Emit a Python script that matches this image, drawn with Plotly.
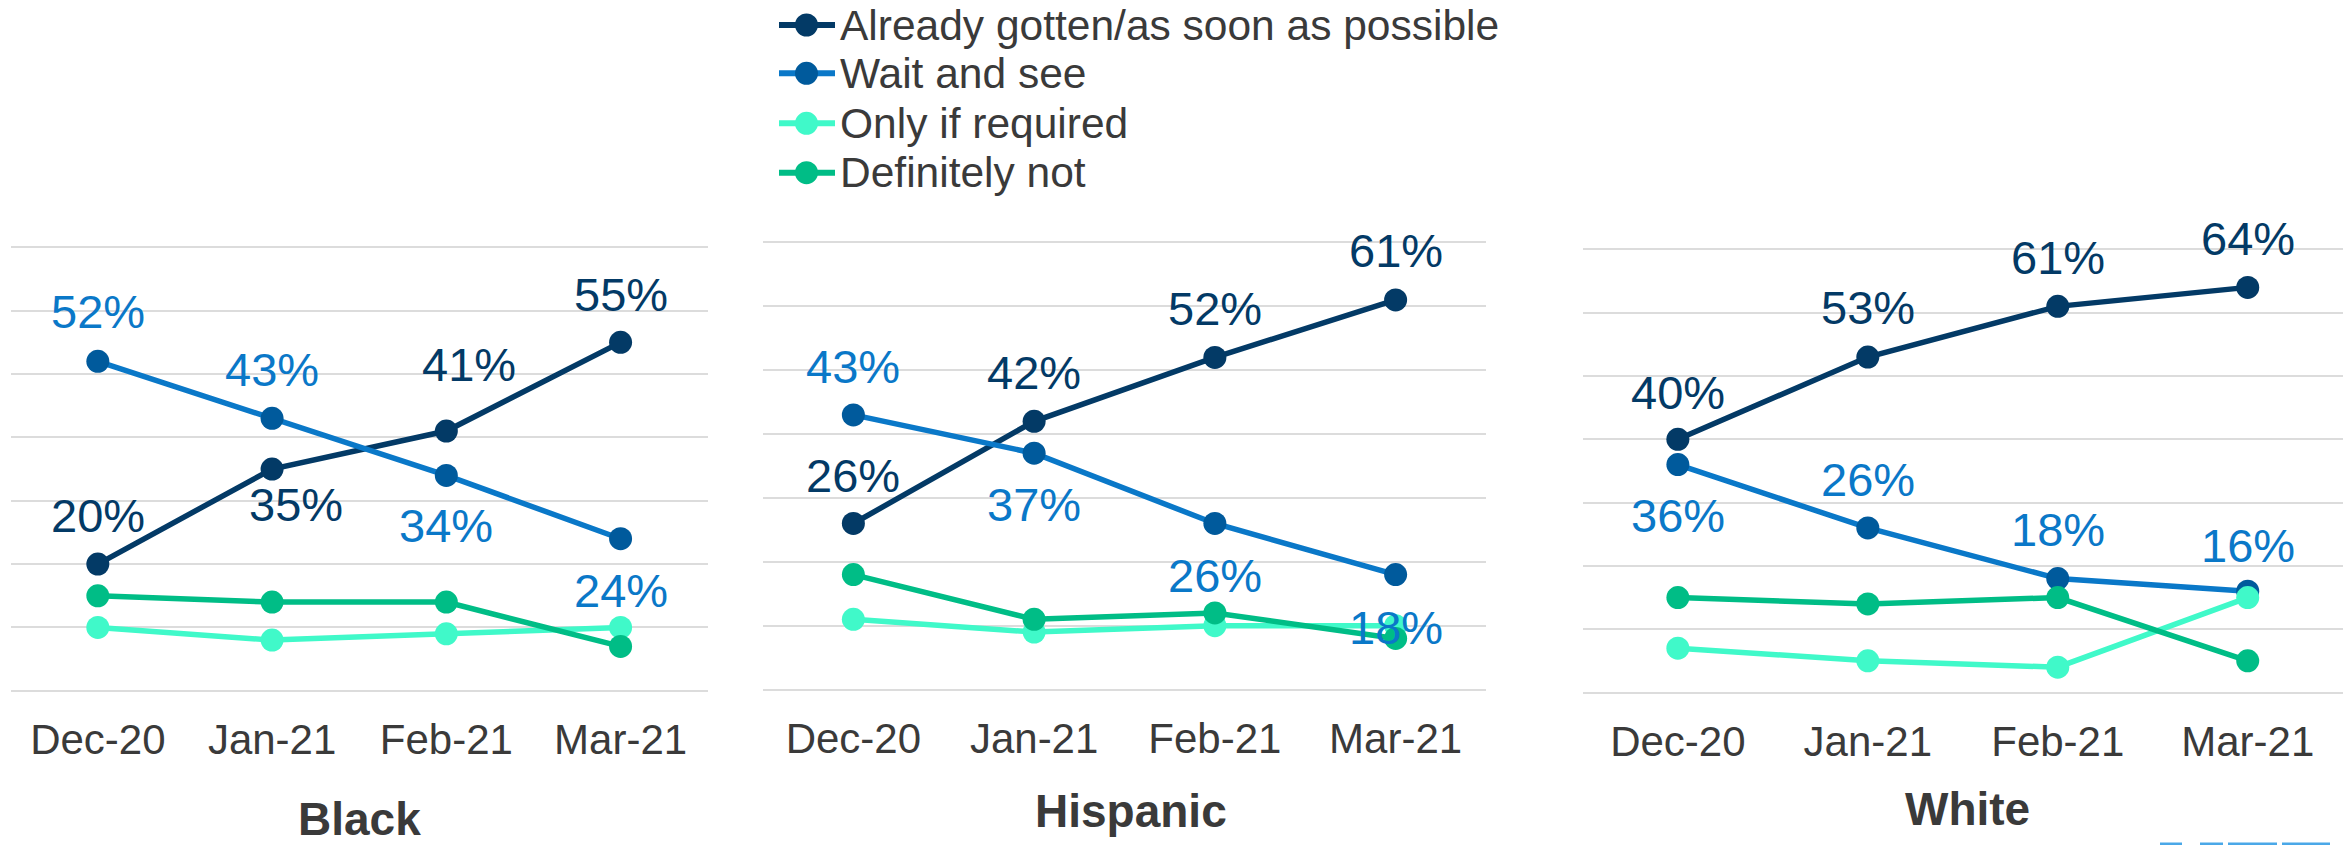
import plotly.graph_objects as go

W, H = 2351, 845

# ---- data -------------------------------------------------------------
months = ["Dec-20", "Jan-21", "Feb-21", "Mar-21"]
groups = ["Black", "Hispanic", "White"]
series_names = [
    "Already gotten/as soon as possible",
    "Wait and see",
    "Only if required",
    "Definitely not",
]

already_gotten = {"Black": [20, 35, 41, 55], "Hispanic": [26, 42, 52, 61], "White": [40, 53, 61, 64]}
wait_and_see = {"Black": [52, 43, 34, 24], "Hispanic": [43, 37, 26, 18], "White": [36, 26, 18, 16]}
only_if_required = {"Black": [10, 8, 9, 10], "Hispanic": [11, 9, 10, 10], "White": [7, 5, 4, 15]}
definitely_not = {"Black": [15, 14, 14, 7], "Hispanic": [18, 11, 12, 8], "White": [15, 14, 15, 5]}

series_values = [already_gotten, wait_and_see, only_if_required, definitely_not]

# ---- styling ----------------------------------------------------------
FONT = "Arial, 'Liberation Sans', sans-serif"
line_colors = ["#033a66", "#0a78c8", "#40f9c9", "#00bd86"]
marker_colors = ["#033a66", "#005a9c", "#40f9c9", "#00bd86"]
label_colors = ["#033a66", "#0a78c8", None, None]   # only the first two series carry value labels
TEXT_DARK = "#3a3a3a"
GRID = "#dcdcdc"

# panel boxes in pixels: left/right of the grid, y of the 70% and 0% gridlines
panel_px = {
    "Black": dict(x0=10.7, x1=707.7, y70=247.3, y0=690.8),
    "Hispanic": dict(x0=763.0, x1=1486.0, y70=242.4, y0=689.6),
    "White": dict(x0=1582.9, x1=2342.7, y70=249.4, y0=692.5),
}
Y_RANGE = [-2, 72]

# value-label placement (vertical shift, horizontal shift) in px for each point
label_shift = {
    ("Black", 0): [(49, 0), (-35, 24), (67, 23), (48, 0)],
    ("Black", 1): [(50, 0), (49, 0), (-50, 0), (-52, 0)],
    ("Hispanic", 0): [(48, 0), (49, 0), (49, 0), (49, 0)],
    ("Hispanic", 1): [(48, 0), (-51, 0), (-52, 0), (-53, 0)],
    ("White", 0): [(47, 0), (50, 0), (49, 0), (49, 0)],
    ("White", 1): [(-51, 0), (48, 0), (49, 0), (46, 0)],
}

title_px = {"Black": (359, 819), "Hispanic": (1131, 811), "White": (1967, 809)}

fig = go.Figure()
annotations = []
shapes = []

for gi, g in enumerate(groups):
    suffix = "" if gi == 0 else str(gi + 1)
    xa, ya = "x" + suffix, "y" + suffix
    p = panel_px[g]
    ppu = (p["y0"] - p["y70"]) / 70.0
    top_px = p["y70"] - (Y_RANGE[1] - 70) * ppu
    bot_px = p["y0"] + (0 - Y_RANGE[0]) * ppu

    fig.layout["xaxis" + suffix] = dict(
        domain=[p["x0"] / W, p["x1"] / W],
        anchor=ya,
        type="category",
        categoryorder="array",
        categoryarray=months,
        range=[-0.5, 3.5],
        showgrid=False,
        showline=False,
        zeroline=False,
        ticks="",
        ticklabelstandoff=8,
        tickfont=dict(family=FONT, size=42, color=TEXT_DARK),
        fixedrange=True,
    )
    fig.layout["yaxis" + suffix] = dict(
        domain=[1 - bot_px / H, 1 - top_px / H],
        anchor=xa,
        range=Y_RANGE,
        tick0=0,
        dtick=10,
        showticklabels=False,
        showgrid=True,
        gridcolor=GRID,
        gridwidth=2,
        zeroline=False,
        showline=False,
        fixedrange=True,
    )

    for si, name in enumerate(series_names):
        vals = series_values[si][g]
        fig.add_trace(go.Scatter(
            x=months, y=vals, xaxis=xa, yaxis=ya,
            name=name, mode="lines+markers",
            line=dict(color=line_colors[si], width=5.5),
            marker=dict(color=marker_colors[si], size=23, line=dict(width=0)),
            showlegend=False, cliponaxis=False,
        ))
        if label_colors[si] is None:
            continue
        for mi, (m, v) in enumerate(zip(months, vals)):
            dy, dx = label_shift[(g, si)][mi]
            annotations.append(dict(
                x=m, y=v, xref=xa, yref=ya, text=f"{v}%",
                showarrow=False, xanchor="center", yanchor="middle",
                yshift=dy, xshift=dx,
                font=dict(family=FONT, size=47, color=label_colors[si]),
            ))

    tx, ty = title_px[g]
    annotations.append(dict(
        x=tx / W, y=1 - ty / H, xref="paper", yref="paper",
        text=f"<b>{g}</b>", showarrow=False, xanchor="center", yanchor="middle",
        borderpad=0,
        font=dict(family=FONT, size=46, color=TEXT_DARK),
    ))

# ---- legend (line + dot + label, stacked) --------------------------------
legend_rows_px = [25, 73.3, 123.3, 172.7]
for si, name in enumerate(series_names):
    yp = 1 - legend_rows_px[si] / H
    shapes.append(dict(
        type="line", xref="paper", yref="paper",
        x0=779 / W, x1=835 / W, y0=yp, y1=yp,
        line=dict(color=line_colors[si], width=6),
    ))
    shapes.append(dict(
        type="circle", xref="paper", yref="paper",
        xsizemode="pixel", ysizemode="pixel",
        xanchor=806.5 / W, yanchor=yp,
        x0=-11.5, x1=11.5, y0=-11.5, y1=11.5,
        fillcolor=marker_colors[si], line=dict(width=0),
    ))
    annotations.append(dict(
        x=838 / W, y=yp, xref="paper", yref="paper",
        text=name, showarrow=False, xanchor="left", yanchor="middle",
        font=dict(family=FONT, size=42.5, color=TEXT_DARK),
    ))

# clipped logo strip at the bottom-right edge
for a, b in [(2160, 2182), (2200, 2223), (2228, 2277), (2282, 2330)]:
    shapes.append(dict(
        type="rect", xref="paper", yref="paper",
        x0=a / W, x1=b / W, y0=0, y1=2.5 / H,
        fillcolor="#4aa8e8", line=dict(width=0),
    ))

fig.update_layout(
    width=W, height=H,
    margin=dict(l=0, r=0, t=0, b=0),
    paper_bgcolor="white",
    plot_bgcolor="white",
    showlegend=False,
    annotations=annotations,
    shapes=shapes,
    font=dict(family=FONT),
)

fig.write_html("out.html", config={"displayModeBar": False})
